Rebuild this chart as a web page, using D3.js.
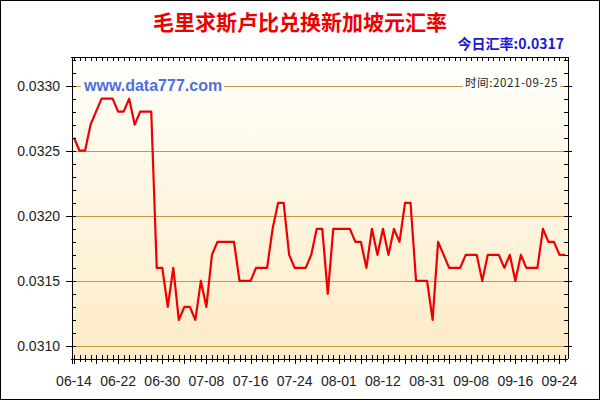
<!DOCTYPE html>
<html><head><meta charset="utf-8">
<script src="https://cdn.jsdelivr.net/npm/d3@7/dist/d3.min.js"></script>
<style>body{margin:0;background:#fff}svg{display:block}</style>
</head><body><svg id="c" width="600" height="400"></svg>
<script>
const dates = [
 "06-14","06-15","06-16","06-17","06-18","06-19","06-20","06-21","06-22","06-23","06-24","06-25","06-26","06-27","06-28","06-29","06-30",
 "07-01","07-02","07-03","07-04","07-05","07-06","07-07","07-08","07-09","07-10","07-11","07-12","07-13","07-14","07-15","07-16",
 "07-17","07-18","07-19","07-20","07-21","07-22","07-23","07-24","07-25","07-26","07-27","07-28","07-29","07-30","07-31",
 "08-01","08-02","08-03","08-04","08-05","08-09","08-10","08-11","08-12",
 "08-13","08-16","08-17","08-18","08-19","08-20","08-30","08-31",
 "09-01","09-02","09-03","09-04","09-05","09-06","09-07","09-08",
 "09-09","09-10","09-11","09-12","09-13","09-14","09-15","09-16",
 "09-17","09-18","09-19","09-20","09-21","09-22","09-23","09-24","09-25"
];
const values = [
 0.0326,0.0325,0.0325,0.0327,0.0328,0.0329,0.0329,0.0329,0.0328,0.0328,
 0.0329,0.0327,0.0328,0.0328,0.0328,0.0316,0.0316,0.0313,0.0316,0.0312,
 0.0313,0.0313,0.0312,0.0315,0.0313,0.0317,0.0318,0.0318,0.0318,0.0318,
 0.0315,0.0315,0.0315,0.0316,0.0316,0.0316,0.0319,0.0321,0.0321,0.0317,
 0.0316,0.0316,0.0316,0.0317,0.0319,0.0319,0.0314,0.0319,0.0319,0.0319,
 0.0319,0.0318,0.0318,0.0316,0.0319,0.0317,0.0319,0.0317,0.0319,0.0318,
 0.0321,0.0321,0.0315,0.0315,0.0315,0.0312,0.0318,0.0317,0.0316,0.0316,
 0.0316,0.0317,0.0317,0.0317,0.0315,0.0317,0.0317,0.0317,0.0316,0.0317,
 0.0315,0.0317,0.0316,0.0316,0.0316,0.0319,0.0318,0.0318,0.0317,0.0317
];
const yTicks = [0.0310, 0.0315, 0.0320, 0.0325, 0.0330];
const yMinorStep = 0.0001;
const labelEvery = 8;
const title = "毛里求斯卢比兑换新加坡元汇率";
const todayLabel = "今日汇率:0.0317";
const timeLabel = "时间:2021-09-25";
const site = "www.data777.com";

const svg = d3.select("#c");
const L = 72, R = 568, T = 57, B = 359;
const x = d3.scaleLinear().domain([0, dates.length - 1]).range([74, 565]);
const y = d3.scaleLinear().domain([0.03090, 0.03322]).range([B, T]);

svg.append("rect").attr("x",0).attr("y",0).attr("width",600).attr("height",400).attr("fill","#fff");
const defs = svg.append("defs");
const g = defs.append("linearGradient").attr("id","bg").attr("x1",0).attr("y1",0).attr("x2",0).attr("y2",1);
g.append("stop").attr("offset","0%").attr("stop-color","#fffffa");
g.append("stop").attr("offset","100%").attr("stop-color","#fdebc6");
svg.append("rect").attr("x",L).attr("y",T).attr("width",R-L).attr("height",B-T).attr("fill","url(#bg)");

svg.append("g").selectAll("line").data(yTicks).join("line")
  .attr("x1",L).attr("x2",R).attr("y1",d=>Math.round(y(d))+0.5).attr("y2",d=>Math.round(y(d))+0.5)
  .attr("stroke","#c09a3c").attr("stroke-width",1);

function boxedText(txt, xx, yy, opts){
  const t = svg.append("text").attr("x",xx).attr("y",yy).text(txt)
    .attr("font-family",opts.family).attr("font-size",opts.size).attr("font-weight",opts.weight||"normal")
    .attr("fill",opts.color).attr("text-anchor",opts.anchor||"start");
  if (opts.ls) t.attr("letter-spacing", opts.ls);
  if (opts.bg){
    const bb = t.node().getBBox();
    svg.insert("rect", () => t.node()).attr("x",bb.x-2).attr("y",bb.y).attr("width",bb.width+4).attr("height",bb.height).attr("fill",opts.bg);
  }
  return t;
}
boxedText(site, 84, 91, {family:"Liberation Sans, Arial, sans-serif", size:16, weight:"bold", color:"#4f6fdc", bg:"#fffffa"});
boxedText(timeLabel, 558, 87, {family:"'Noto Sans CJK SC', sans-serif", size:11.5, color:"#222", anchor:"end", ls:0.6, bg:"#fffffa"});

const line = d3.line().x((d,i)=>x(i)).y(d=>y(d));
svg.append("path").datum(values).attr("d",line).attr("fill","none")
  .attr("stroke","#ee0000").attr("stroke-width",2.2).attr("stroke-linejoin","round");

const ax = svg.append("g").attr("stroke","#000").attr("stroke-width",1).attr("shape-rendering","crispEdges");
ax.append("line").attr("x1",L).attr("x2",L).attr("y1",T).attr("y2",B+5);
ax.append("line").attr("x1",R).attr("x2",R).attr("y1",T).attr("y2",B);
ax.append("line").attr("x1",L-1).attr("x2",R).attr("y1",T).attr("y2",T);
ax.append("line").attr("x1",L-1).attr("x2",R).attr("y1",B).attr("y2",B);

const minor = d3.range(Math.ceil(y.domain()[0]/yMinorStep), Math.floor(y.domain()[1]/yMinorStep)+1).map(k=>k*yMinorStep);
minor.forEach(v=>{
  const yy = Math.round(y(v))+0.5;
  ax.append("line").attr("x1",L).attr("x2",L+4).attr("y1",yy).attr("y2",yy);
  ax.append("line").attr("x1",R-4).attr("x2",R).attr("y1",yy).attr("y2",yy);
});
yTicks.forEach(v=>{
  const yy = Math.round(y(v))+0.5;
  ax.append("line").attr("x1",L-6).attr("x2",L).attr("y1",yy).attr("y2",yy);
  ax.append("line").attr("x1",R).attr("x2",R+4).attr("y1",yy).attr("y2",yy);
});
dates.forEach((d,i)=>{
  const xx = Math.round(x(i))+0.5;
  const major = i % 4 === 0;
  ax.append("line").attr("x1",xx).attr("x2",xx).attr("y1",B-4).attr("y2",B+(major?5:3));
  ax.append("line").attr("x1",xx).attr("x2",xx).attr("y1",T).attr("y2",T+4);
});

svg.append("g").selectAll("text").data(yTicks).join("text")
  .attr("x",60).attr("y",d=>y(d)+5).attr("text-anchor","end")
  .attr("font-family","Liberation Sans, Arial, sans-serif").attr("font-size",14).attr("fill","#222")
  .text(d=>d3.format(".4f")(d));

svg.append("g").selectAll("text").data(dates.map((d,i)=>[d,i]).filter(p=>p[1]%labelEvery===0)).join("text")
  .attr("x",p=>x(p[1])).attr("y",386).attr("text-anchor","middle")
  .attr("font-family","Liberation Sans, Arial, sans-serif").attr("font-size",14).attr("fill","#222")
  .text(p=>p[0]);

svg.append("text").attr("x",300).attr("y",30).attr("text-anchor","middle")
  .attr("font-family","'Noto Sans CJK SC', sans-serif").attr("font-weight","bold").attr("font-size",21)
  .attr("fill","#ee0000").text(title);
svg.append("text").attr("x",564).attr("y",49).attr("text-anchor","end")
  .attr("font-family","'Noto Sans CJK SC', sans-serif").attr("font-weight","bold").attr("font-size",14)
  .attr("fill","#1a1acc").text(todayLabel);

svg.append("rect").attr("x",0.5).attr("y",0.5).attr("width",599).attr("height",399)
  .attr("fill","none").attr("stroke","#000").attr("stroke-width",1);
</script></body></html>
